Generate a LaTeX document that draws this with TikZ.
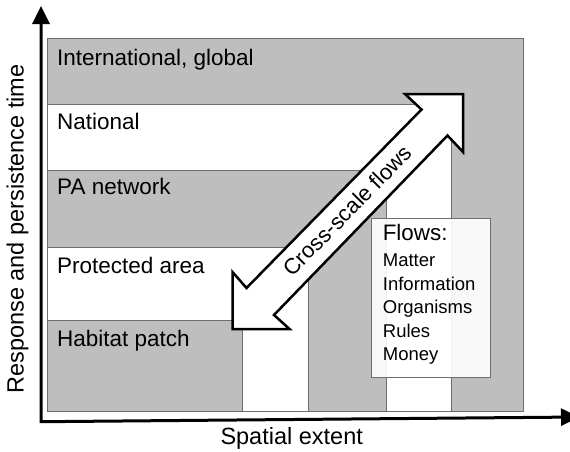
\documentclass[tikz,border=0pt]{standalone}
\usepackage{fontspec}
\setmainfont{Liberation Sans}
\usetikzlibrary{arrows.meta}
\definecolor{bandgray}{HTML}{BEBEBE}
\definecolor{edgegray}{HTML}{6E6E6E}
\tikzset{
  grayband/.style={fill=bandgray, draw=edgegray, line width=0.8pt},
  whiteband/.style={fill=white, draw=edgegray, line width=0.8pt},
  bandlabel/.style={anchor=base west, inner sep=0pt, font=\fontsize{22.5}{27}\selectfont},
  axislabel/.style={inner sep=0pt, font=\fontsize{23.5}{28}\selectfont},
  flowitem/.style={anchor=base west, inner sep=0pt, font=\fontsize{18.5}{22}\selectfont},
  axisline/.style={line width=3pt, {Triangle[length=18pt,width=17pt]}-{Triangle[length=18pt,width=17pt]}},
  bigarrow/.style={fill=white, draw=black, line width=2.5pt, line join=miter}
}
\begin{document}
\begin{tikzpicture}[x=1pt,y=-1pt]
\useasboundingbox (0,0) rectangle (570,451);

% nested scale levels, outermost first
\draw[grayband]  (47,38.5) rectangle (523.5,411);
\draw[whiteband] (47,104) -- (451.7,104) -- (451.7,411) -- (386,411) -- (386,170) -- (47,170) -- cycle;
\draw[grayband]  (47,170) -- (386,170) -- (386,411) -- (308.3,411) -- (308.3,247.3) -- (47,247.3) -- cycle;
\draw[whiteband] (47,247.3) -- (308.3,247.3) -- (308.3,411) -- (242.7,411) -- (242.7,320) -- (47,320) -- cycle;
\draw[grayband]  (47,320) rectangle (242.7,411);

\node[bandlabel] (intl) at (57,65.5)  {International, global};
\node[bandlabel] (natl) at (57,129.5) {National};
\node[bandlabel] (panet) at (57,194.4) {PA network};
\node[bandlabel] (parea) at (57,273.4) {Protected area};
\node[bandlabel] (habit) at (57,346)  {Habitat patch};

% axes
\coordinate (origin) at (41,421.7);
\coordinate (ytip) at (41,6);
\coordinate (xtip) at (579,417);
\draw[axisline, line join=miter] (ytip) -- (origin) -- (xtip);
\node[axislabel, rotate=90] (ylab) at (17.5,229) {Response and persistence time};
\node[axislabel] (xlab) at (291.7,438.5) {Spatial extent};

% cross-scale double arrow
\draw[bigarrow] (463,94) -- (405,94) -- (421.5,109.5) -- (246.5,288) -- (232.5,272)
  -- (232.5,329) -- (289.5,329) -- (274,315) -- (447.5,135.5) -- (463,152) -- cycle;
\node[inner sep=0pt, rotate=45.5, font=\fontsize{22}{26}\selectfont] (cross) at (347.5,210.5) {Cross-scale flows};

% list of flows
\node[draw=edgegray, line width=0.8pt, fill=white, fill opacity=0.9, minimum width=118.5pt, minimum height=159pt, inner sep=0pt] (flowbox) at (431,297.8) {};
\node[anchor=base west, inner sep=0pt, font=\fontsize{22.4}{27}\selectfont] (flowtitle) at (382.6,240.7) {Flows:};
\node[flowitem] (matter) at (382.7,266.5) {Matter};
\node[flowitem] (info)   at (382.7,290)   {Information};
\node[flowitem] (organ)  at (382.7,313.5) {Organisms};
\node[flowitem] (rules)  at (382.7,337)   {Rules};
\node[flowitem] (money)  at (382.7,360.5) {Money};
\end{tikzpicture}
\end{document}
